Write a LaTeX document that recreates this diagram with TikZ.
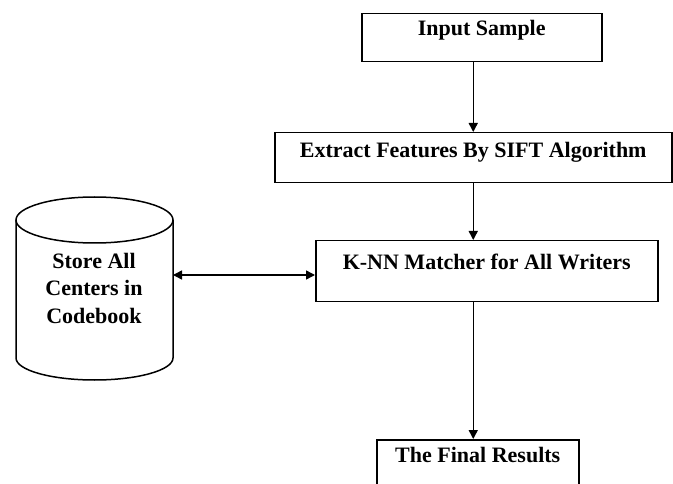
\documentclass[tikz,border=0pt]{standalone}
\usepackage{fontspec}
\setmainfont{Liberation Serif}
\usetikzlibrary{arrows.meta}
\begin{document}
\begin{tikzpicture}[x=1pt,y=-1pt,
  txt/.style={font=\bfseries\fontsize{22}{27.5}\selectfont},
  box/.style={draw, line width=1.5pt, inner sep=0pt, anchor=north west, txt},
  tip/.tip={Triangle[length=9pt,width=9pt]},
  arr/.style={line width=1.5pt, -tip},
]
\useasboundingbox (0,0) rectangle (673,484);

% process boxes
\node[box, minimum width=240pt, text height=22pt, text depth=26pt] (in) at (361,13) {Input Sample};
\node[box, minimum width=397pt, text height=25pt, text depth=25pt] (ex) at (274,132) {Extract Features By SIFT Algorithm};
\node[box, minimum width=342pt, text height=29pt, text depth=32pt] (kn) at (315,240) {K-NN Matcher for All Writers};
\node[box, minimum width=202pt, text height=23pt, text depth=40pt] (fin) at (376,439) {The Final Results};

% codebook store (cylinder)
\draw[line width=1.5pt] (16,220) -- (16,358)
  arc[start angle=180, end angle=0, x radius=78.5, y radius=22] -- (173,220);
\draw[line width=1.5pt] (94.5,220) ellipse[x radius=78.5, y radius=23];
\coordinate (cbR) at (173,275);
\node[txt, align=center, inner sep=0pt] (cb) at (94,288) {Store All\\Centers in\\Codebook};

% connectors
\draw[arr] (in.south -| ex.center) -- (ex.north);
\draw[arr] (ex.south) -- (kn.north -| ex.center);
\draw[arr] (kn.south -| ex.center) -- (fin.north -| ex.center);
\draw[line width=1.5pt, tip-tip] (cbR) -- (cbR -| kn.west);
\end{tikzpicture}
\end{document}
